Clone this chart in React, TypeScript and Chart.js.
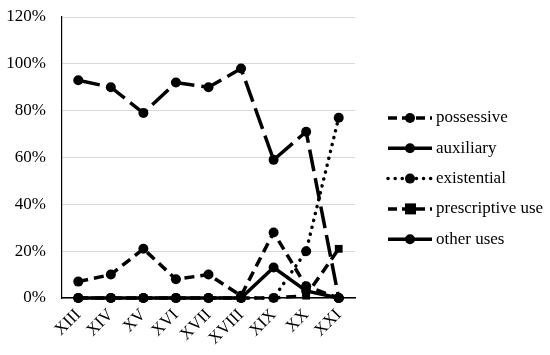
import React, { useEffect, useRef } from "react";
import { Chart, registerables } from "chart.js";
Chart.register(...registerables);

const centuries = ["XIII", "XIV", "XV", "XVI", "XVII", "XVIII", "XIX", "XX", "XXI"];
const possessive = [7, 10, 21, 8, 10, 1, 28, 5, 0];
const auxiliary = [93, 90, 79, 92, 90, 98, 59, 71, 0];
const existential = [0, 0, 0, 0, 0, 0, 0, 20, 77];
const prescriptive = [0, 0, 0, 0, 0, 0, 0, 1, 21];
const otherUses = [0, 0, 0, 0, 0, 0, 13, 3, 0];
const yTicks = [0, 20, 40, 60, 80, 100, 120];

const FONT = "'Liberation Serif', 'Times New Roman', serif";

export default function App() {
  const ref = useRef<HTMLCanvasElement | null>(null);
  useEffect(() => {
    document.body.style.margin = "0";
    const mk = (label: string, data: number[], dash: number[], style: string, order: number, cap: CanvasLineCap = "butt") => ({
      label,
      data,
      order,
      clip: false,
      borderColor: "#000",
      backgroundColor: "#000",
      borderWidth: 3.5,
      borderDash: dash,
      borderCapStyle: cap,
      pointStyle: style,
      pointRadius: style === "rect" ? 5.5 : 5,
      pointBorderWidth: 0,
      pointBackgroundColor: "#000",
      tension: 0,
    });
    const datasets: any[] = [
      mk("possessive", possessive, [10, 6], "circle", 2),
      mk("auxiliary", auxiliary, [22, 7], "circle", 3),
      mk("existential", existential, [0.1, 7], "circle", 4, "round"),
      mk("prescriptive use", prescriptive, [10, 6], "rect", 0),
      mk("other uses", otherUses, [], "circle", 1),
    ];
    const legendPlugin = {
      id: "customLegend",
      afterDraw(chart: any) {
        const ctx = chart.ctx;
        ctx.save();
        datasets.forEach((ds, i) => {
          const y = 118 + i * 30.3;
          ctx.strokeStyle = "#000";
          ctx.lineWidth = 3.5;
          ctx.lineCap = ds.borderCapStyle;
          if (ds.label === "existential") ctx.setLineDash([0.1, 7]);
          else if (ds.label === "auxiliary") ctx.setLineDash([]);
          else if (ds.borderDash.length) ctx.setLineDash([9, 5]);
          else ctx.setLineDash([]);
          ctx.beginPath();
          ctx.moveTo(388, y);
          ctx.lineTo(432, y);
          ctx.stroke();
          ctx.setLineDash([]);
          ctx.fillStyle = "#000";
          if (ds.pointStyle === "rect") {
            ctx.fillRect(405, y - 5.5, 11, 11);
          } else {
            ctx.beginPath();
            ctx.arc(410, y, 5, 0, Math.PI * 2);
            ctx.fill();
          }
          ctx.font = `17px ${FONT}`;
          ctx.textBaseline = "middle";
          ctx.textAlign = "left";
          ctx.fillText(ds.label, 436, y);
        });
        ctx.restore();
      },
    };
    const chart = new Chart(ref.current as HTMLCanvasElement, {
      type: "line",
      data: { labels: centuries, datasets },
      plugins: [legendPlugin],
      options: {
        animation: false,
        responsive: false,
        maintainAspectRatio: false,
        layout: { autoPadding: false, padding: { top: 17, right: 195, left: 0, bottom: 0 } },
        plugins: { legend: { display: false }, tooltip: { enabled: false } },
        scales: {
          x: {
            offset: true,
            grid: { display: false, drawTicks: false, offset: true },
            border: { color: "#000", width: 1.5 },
            ticks: {
              color: "#000",
              font: { family: FONT, size: 17 },
              minRotation: 45,
              maxRotation: 45,
              padding: 7,
              autoSkip: false,
            },
            afterFit(axis: any) {
              axis.height = 57;
              axis.paddingLeft = 0;
              axis.paddingRight = 0;
            },
          },
          y: {
            min: 0,
            max: 120,
            afterBuildTicks(axis: any) {
              axis.ticks = yTicks.map((v) => ({ value: v }));
            },
            grid: { color: "#d9d9d9", lineWidth: 1, drawTicks: false },
            border: { color: "#000", width: 1.2 },
            ticks: {
              color: "#000",
              font: { family: FONT, size: 17 },
              padding: 16,
              callback: (v: any) => `${v}%`,
            },
            afterFit(axis: any) {
              axis.width = 62;
              axis.paddingTop = 0;
              axis.paddingBottom = 0;
            },
          },
        },
      } as any,
    });
    return () => chart.destroy();
  }, []);
  return (
    <div style={{ width: 550, height: 355 }}>
      <canvas ref={ref} width={550} height={355} />
    </div>
  );
}
